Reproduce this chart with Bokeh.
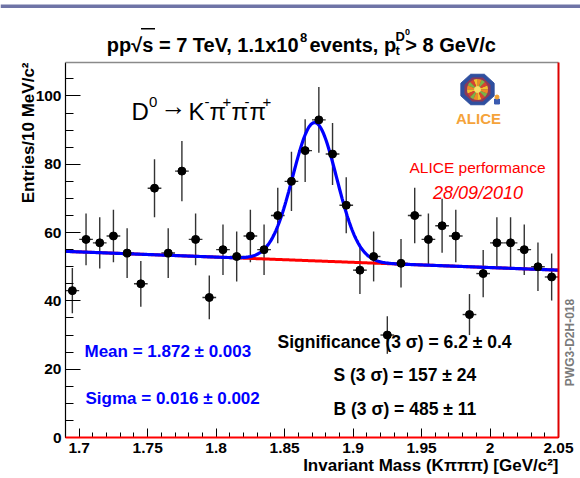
import numpy as np
from bokeh.plotting import figure
from bokeh.models import Label, FixedTicker, CustomJSTickFormatter, BoxAnnotation
from bokeh.embed import file_html
from bokeh.resources import INLINE

# ---------------- data ----------------
mass_centers = [1.695, 1.705, 1.715, 1.725, 1.735, 1.745, 1.755, 1.765, 1.775,
                1.785, 1.795, 1.805, 1.815, 1.825, 1.835, 1.845, 1.855, 1.865,
                1.875, 1.885, 1.895, 1.905, 1.915, 1.925, 1.935, 1.945, 1.955,
                1.965, 1.975, 1.985, 1.995, 2.005, 2.015, 2.025, 2.035, 2.045]
entries = [43, 58, 57, 59, 54, 45, 73, 54, 78, 58, 41, 55, 53, 59, 55, 65, 75, 84,
           93, 83, 68, 49, 53, 30, 51, 65, 58, 62, 59, 36, 48, 57, 57, 55, 50, 47]
entries_err = [6.6, 7.6, 7.5, 7.7, 7.3, 6.7, 8.5, 7.3, 8.8, 7.6, 6.4, 7.4, 7.3, 7.7,
               7.4, 8.1, 8.7, 9.2, 9.6, 9.1, 8.2, 7.0, 7.3, 5.5, 7.1, 8.1, 7.6, 7.9,
               7.7, 6.0, 6.9, 7.5, 7.5, 7.4, 7.1, 6.9]
bin_half_width = 0.005

x_ticks = [1.7, 1.75, 1.8, 1.85, 1.9, 1.95, 2.0, 2.05]
x_minor_ticks = [1.69, 1.70, 1.71, 1.72, 1.73, 1.74, 1.75, 1.76, 1.77, 1.78, 1.79,
                 1.80, 1.81, 1.82, 1.83, 1.84, 1.85, 1.86, 1.87, 1.88, 1.89, 1.90,
                 1.91, 1.92, 1.93, 1.94, 1.95, 1.96, 1.97, 1.98, 1.99, 2.00, 2.01,
                 2.02, 2.03, 2.04, 2.05]
y_ticks = [0, 20, 40, 60, 80, 100]
y_minor_ticks = [0, 5, 10, 15, 20, 25, 30, 35, 40, 45, 50, 55, 60, 65, 70, 75, 80,
                 85, 90, 95, 100, 105]

# axis extent of the histogram frame
mass_min, mass_max = 1.69, 2.05
entries_min, entries_max = 0.0, 109.8

# fit result (gaussian + linear background)
fit_mean = 1.872
fit_sigma = 0.016
fit_amp = 40.5
bkg_left = 54.5     # background at 1.69
bkg_right = 49.0    # background at 2.05

title_parts = ["pp\u221as = 7 TeV, 1.1x10", "8", " events, p", "t", "D", "0", " > 8 GeV/c"]
decay_parts = ["D", "0", "\u2192", "K", "-", "\u03c0", "+", "\u03c0", "-", "\u03c0", "+"]
x_title = "Invariant Mass (K\u03c0\u03c0\u03c0) [GeV/c\u00b2]"
y_title = "Entries/10 MeV/c\u00b2"
stat_mean = "Mean = 1.872 \u00b1 0.003"
stat_sigma = "Sigma = 0.016 \u00b1 0.002"
stat_signif = "Significance (3 \u03c3) = 6.2 \u00b1 0.4"
stat_s = "S (3 \u03c3) = 157 \u00b1 24"
stat_b = "B (3 \u03c3) = 485 \u00b1 11"
perf_text = "ALICE performance"
date_text = "28/09/2010"
tag_text = "PWG3-D2H-018"
logo_text = "ALICE"

# ---------------- layout ----------------
W, H = 580, 478
FL, FR, FT, FB = 65, 558, 62, 437      # pixel box of the histogram frame
FONT = "Liberation Sans"


def dx(px):
    return mass_min + (px - FL) * (mass_max - mass_min) / (FR - FL)


def dy(py):
    return entries_min + (FB - py) * (entries_max - entries_min) / (FB - FT)


# the plotting area covers the whole canvas; the axes sit at fixed data locations
p = figure(width=W, height=H, x_range=(dx(0), dx(W)), y_range=(dy(H), dy(0)),
           output_backend="svg", toolbar_location=None,
           min_border=0, min_border_left=0, min_border_right=0,
           min_border_top=0, min_border_bottom=0)
p.grid.visible = False
p.outline_line_color = None
p.background_fill_color = "white"
p.border_fill_color = "white"

xa = p.xaxis[0]
xa.fixed_location = entries_min
xa.bounds = (mass_min, mass_max)
xa.ticker = FixedTicker(ticks=x_ticks, minor_ticks=x_minor_ticks)
xa.formatter = CustomJSTickFormatter(code="return String(Math.round(tick*100)/100);")
xa.major_tick_in = 9
xa.major_tick_out = 0
xa.minor_tick_in = 5
xa.minor_tick_out = 0
xa.major_label_standoff = 5
ya = p.yaxis[0]
ya.fixed_location = mass_min
ya.bounds = (entries_min, entries_max)
ya.ticker = FixedTicker(ticks=y_ticks, minor_ticks=y_minor_ticks)
ya.major_tick_in = 15
ya.major_tick_out = 0
ya.minor_tick_in = 8
ya.minor_tick_out = 0
ya.major_label_standoff = 4
for ax in (xa, ya):
    ax.major_label_text_font = FONT
    ax.major_label_text_font_style = "bold"
    ax.major_label_text_font_size = "15.5px"
    ax.major_label_text_color = "black"
    ax.axis_line_color = "black"
    ax.axis_line_width = 1.2
    ax.major_tick_line_color = "black"
    ax.minor_tick_line_color = "black"

# frame: grey top, red right and bottom edges
p.segment(x0=[mass_min], x1=[mass_max], y0=[entries_max], y1=[entries_max],
          line_color="#8a8a8a", line_width=1.6, level="overlay")
p.segment(x0=[mass_max], x1=[mass_max], y0=[entries_min], y1=[entries_max],
          line_color="#dd0000", line_width=2, level="overlay")
p.segment(x0=[mass_min], x1=[mass_max], y0=[entries_min], y1=[entries_min],
          line_color="#ff0000", line_width=2, level="overlay")

# data: error bars
ex0 = [m - bin_half_width for m in mass_centers]
ex1 = [m + bin_half_width for m in mass_centers]
ey0 = [v - e for v, e in zip(entries, entries_err)]
ey1 = [v + e for v, e in zip(entries, entries_err)]
p.segment(x0=mass_centers, x1=mass_centers, y0=ey0, y1=ey1, line_color="#333333", line_width=1.4)
p.segment(x0=ex0, x1=ex1, y0=entries, y1=entries, line_color="#333333", line_width=1.4)

# fit functions
xf = np.linspace(mass_min, mass_max, 500)
bkg = bkg_left + (bkg_right - bkg_left) * (xf - mass_min) / (mass_max - mass_min)
tot = bkg + fit_amp * np.exp(-0.5 * ((xf - fit_mean) / fit_sigma) ** 2)
p.line(xf, bkg, line_color="#ff0000", line_width=3)
p.line(xf, tot, line_color="#0000ff", line_width=3.2)

p.scatter(mass_centers, entries, marker="circle", size=8, color="black")


def add_text(sx, sy, text, size, color="black", style="bold", align="left",
             baseline="alphabetic", angle=0.0):
    p.add_layout(Label(x=dx(sx), y=dy(sy), text=text, text_font=FONT,
                       text_font_size=f"{size}px", text_font_style=style,
                       text_color=color, text_align=align, text_baseline=baseline,
                       angle=angle))


# slide decoration line at top
p.add_layout(BoxAnnotation(left=dx(0), right=dx(W), top=dy(4), bottom=dy(7.5),
                           fill_color="#6f74a6", fill_alpha=1.0, line_alpha=0))

# title (composed with super/subscripts)
add_text(298, 44, title_parts[0], 20, align="right")
add_text(299.5, 37, title_parts[1], 13)
add_text(309, 44, title_parts[2], 20)
add_text(395, 50, title_parts[3], 13)
add_text(395, 36, title_parts[4], 13)
add_text(404.5, 31, title_parts[5], 9)
add_text(501, 44, title_parts[6], 20, align="right")
# overline of the square root
p.segment(x0=[dx(140.5)], x1=[dx(154.5)], y0=[dy(28.3)], y1=[dy(28.3)],
          line_color="black", line_width=1.5)

# axis titles
add_text(558, 465, x_title, 17, align="right", baseline="middle")
add_text(28, 62, y_title, 17, align="right", baseline="middle", angle=np.pi / 2)

# decay channel
dec_x = [131, 148.5, 160, 188, 204, 209, 222, 231, 244, 249, 262]
for i, (t, sx) in enumerate(zip(decay_parts, dec_x)):
    sup = i in (1, 4, 6, 8, 10)
    if i == 2:
        add_text(sx, 105, t, 26, style="normal")
    else:
        add_text(sx, 101 if sup else 111, t, 15 if sup else 24, style="normal")

# ALICE performance stamp
add_text(477, 167, perf_text, 15.5, color="#ff0000", style="normal", align="center")
add_text(477.5, 192, date_text, 18, color="#ff0000", style="italic", align="center")

# fit statistics
add_text(84, 351, stat_mean, 17, color="#0000ff")
add_text(85, 398, stat_sigma, 17, color="#0000ff")
add_text(277, 341, stat_signif, 17.5)
add_text(333, 374, stat_s, 17.5)
add_text(333, 408, stat_b, 17.5)

# side tag
add_text(569, 342, tag_text, 12, color="#7a7a7a", align="center", baseline="middle",
         angle=np.pi / 2)

# ALICE logo (decorative)
lcx, lcy = 477, 89
ang = np.deg2rad(22.5 + 45 * np.arange(8))
p.patch([dx(lcx + 18 * np.cos(a)) for a in ang], [dy(lcy - 16.5 * np.sin(a)) for a in ang],
        fill_color="#2f4f9f", line_color="#2f4f9f")
p.patch([dx(lcx + 13.5 * np.cos(a)) for a in ang], [dy(lcy - 12.5 * np.sin(a)) for a in ang],
        fill_color="#8b3a5a", line_color="#8b3a5a")
burst_cols = ["#f2c12e", "#d8432e", "#7bb446", "#f08a24"]
n_w = 16
for k in range(n_w):
    a0 = 2 * np.pi * k / n_w
    p.wedge(x=[dx(lcx)], y=[dy(lcy)], radius=10.5, radius_units="screen",
            start_angle=a0, end_angle=a0 + 2 * np.pi / n_w,
            fill_color=burst_cols[k % 4], line_alpha=0)
p.scatter([dx(lcx)], [dy(lcy)], marker="circle", size=6, color="#f7e06a")
p.scatter([dx(496.5)], [dy(101)], marker="square", size=5, color="#3a5bb0")
p.scatter([dx(496.5)], [dy(96.5)], marker="circle", size=4, color="#f0a030")
add_text(478, 117.5, logo_text, 15, color="#f5a33a", align="center")

open("out.html", "w").write(file_html(p, INLINE))
